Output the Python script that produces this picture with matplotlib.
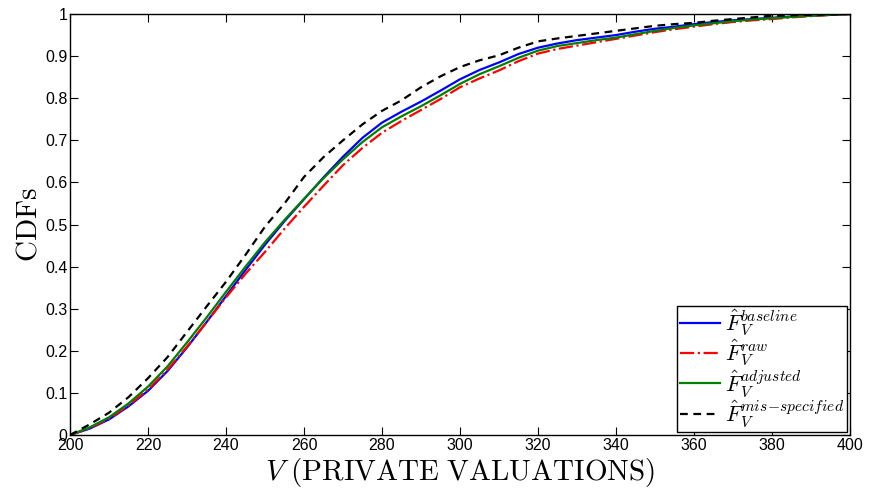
import matplotlib
matplotlib.use('Agg')
import matplotlib.pyplot as plt

plt.rcParams['mathtext.fontset'] = 'cm'
plt.rcParams['font.family'] = ['Liberation Sans', 'DejaVu Sans']

# private valuations grid
v = list(range(200, 401, 5))

# CDF estimates
F_baseline = [0.0, 0.015, 0.037, 0.068, 0.105, 0.152, 0.208, 0.268, 0.330, 0.392,
              0.452, 0.508, 0.560, 0.612, 0.661, 0.706, 0.742, 0.768, 0.792, 0.818,
              0.845, 0.867, 0.885, 0.905, 0.920, 0.930, 0.938, 0.944, 0.950, 0.958,
              0.965, 0.970, 0.976, 0.981, 0.985, 0.988, 0.991, 0.994, 0.996, 0.998, 1.0]
F_raw = [0.0, 0.016, 0.039, 0.070, 0.108, 0.155, 0.210, 0.268, 0.327, 0.383,
         0.435, 0.490, 0.542, 0.592, 0.641, 0.682, 0.718, 0.746, 0.772, 0.798,
         0.826, 0.847, 0.866, 0.888, 0.906, 0.917, 0.925, 0.933, 0.941, 0.949,
         0.957, 0.964, 0.970, 0.976, 0.981, 0.985, 0.988, 0.992, 0.995, 0.998, 1.0]
F_adjusted = [0.0, 0.018, 0.042, 0.075, 0.115, 0.163, 0.220, 0.279, 0.340, 0.400,
              0.458, 0.511, 0.561, 0.610, 0.655, 0.696, 0.731, 0.757, 0.781, 0.807,
              0.834, 0.857, 0.876, 0.896, 0.913, 0.924, 0.931, 0.938, 0.944, 0.952,
              0.960, 0.967, 0.973, 0.978, 0.983, 0.987, 0.990, 0.993, 0.996, 0.998, 1.0]
F_misspec = [0.0, 0.025, 0.053, 0.090, 0.135, 0.185, 0.245, 0.305, 0.364, 0.428,
             0.495, 0.550, 0.613, 0.660, 0.700, 0.738, 0.770, 0.795, 0.826, 0.852,
             0.874, 0.890, 0.902, 0.920, 0.935, 0.942, 0.948, 0.954, 0.960, 0.966,
             0.972, 0.976, 0.979, 0.984, 0.988, 0.992, 0.996, 0.997, 0.998, 0.999, 1.0]

xticks = list(range(200, 401, 20))
yticks = [0, 0.1, 0.2, 0.3, 0.4, 0.5, 0.6, 0.7, 0.8, 0.9, 1]
ytick_labels = ['0', '0.1', '0.2', '0.3', '0.4', '0.5', '0.6', '0.7', '0.8', '0.9', '1']

fig = plt.figure(figsize=(8.71, 4.95), dpi=100)
ax = fig.add_axes([0.0804, 0.1212, 0.8955, 0.8505])

ax.plot(v, F_baseline, color='#0000ff', lw=1.6, label=r'$\hat{F}_V^{baseline}$')
ax.plot(v, F_raw, color='#ff0000', lw=1.6, ls='-.', label=r'$\hat{F}_V^{raw}$')
ax.plot(v, F_adjusted, color='#008000', lw=1.6, label=r'$\hat{F}_V^{adjusted}$')
ax.plot(v, F_misspec, color='black', lw=1.6, ls=(0, (3.5, 2.5)),
        label=r'$\hat{F}_V^{mis\!-\!specified}$')

ax.set_xlim(200, 400)
ax.set_ylim(0, 1)
ax.set_xticks(xticks)
ax.set_yticks(yticks)
ax.set_yticklabels(ytick_labels)
ax.tick_params(direction='in', length=6, width=0.8, top=True, right=True,
               labelsize=11.5, pad=2)
for s in ax.spines.values():
    s.set_linewidth(1.0)

ax.set_xlabel(r'$V\ \mathrm{(PRIVATE\ VALUATIONS)}$', fontsize=21, labelpad=2)
ax.set_ylabel(r'$\mathrm{CDFs}$', fontsize=21, labelpad=2)

leg = ax.legend(loc='lower right', fontsize=16, fancybox=False, framealpha=1,
                edgecolor='black', borderaxespad=0.15, handlelength=1.8,
                labelspacing=0.0, borderpad=0.1, handletextpad=0.25)
leg.get_frame().set_linewidth(1.0)

fig.savefig('out.png', dpi=100)
